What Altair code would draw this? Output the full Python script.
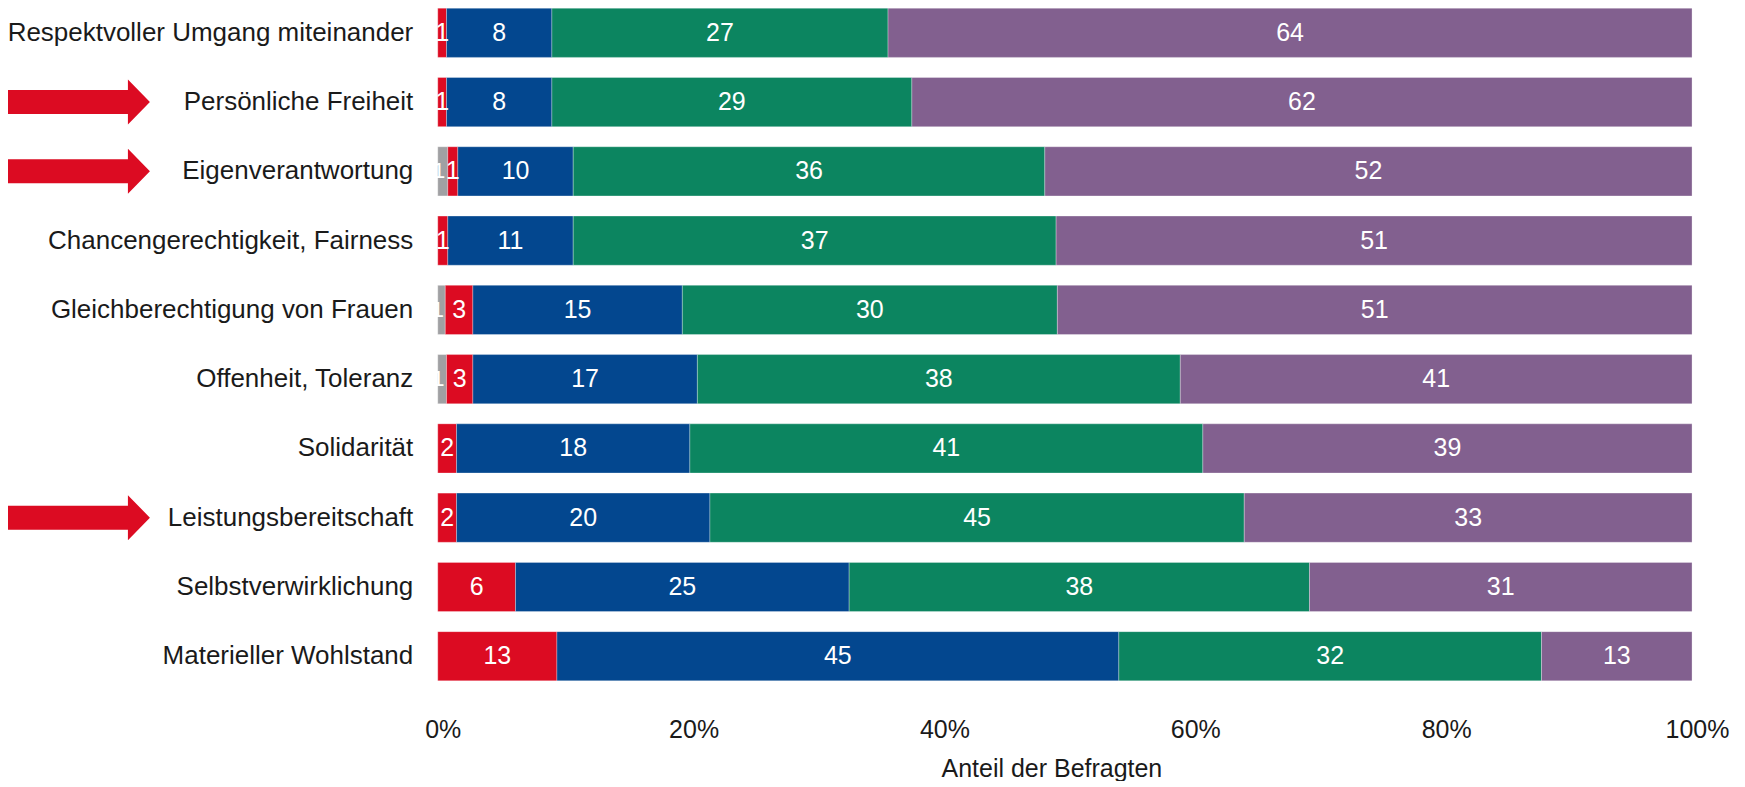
import altair as alt
import pandas as pd

categories = [
    "Respektvoller Umgang miteinander",
    "Persönliche Freiheit",
    "Eigenverantwortung",
    "Chancengerechtigkeit, Fairness",
    "Gleichberechtigung von Frauen",
    "Offenheit, Toleranz",
    "Solidarität",
    "Leistungsbereitschaft",
    "Selbstverwirklichung",
    "Materieller Wohlstand",
]

# segment widths (percent of respondents)
grey_w = [0.0, 0.0, 0.8, 0.0, 0.6, 0.7, 0.0, 0.0, 0.0, 0.0]
red_w = [0.7, 0.7, 0.8, 0.8, 2.2, 2.1, 1.5, 1.5, 6.2, 9.5]
blue_w = [8.4, 8.4, 9.2, 10.0, 16.7, 17.9, 18.6, 20.2, 26.6, 44.8]
green_w = [26.8, 28.7, 37.6, 38.5, 29.9, 38.5, 40.9, 42.6, 36.7, 33.7]
purple_w = [64.1, 62.2, 51.6, 50.7, 50.6, 40.8, 39.0, 35.7, 30.5, 12.0]

# printed labels
grey_lbl = ["", "", "1", "", "1", "1", "", "", "", ""]
red_lbl = ["1", "1", "1", "1", "3", "3", "2", "2", "6", "13"]
blue_lbl = ["8", "8", "10", "11", "15", "17", "18", "20", "25", "45"]
green_lbl = ["27", "29", "36", "37", "30", "38", "41", "45", "38", "32"]
purple_lbl = ["64", "62", "52", "51", "51", "41", "39", "33", "31", "13"]

series = ["grey", "red", "blue", "green", "purple"]
colors = ["#A0A0A3", "#DC0B22", "#03478F", "#0C8560", "#82608F"]

arrow_rows = ["Persönliche Freiheit", "Eigenverantwortung", "Leistungsbereitschaft"]

widths = [grey_w, red_w, blue_w, green_w, purple_w]
labels = [grey_lbl, red_lbl, blue_lbl, green_lbl, purple_lbl]

rows = []
for i, cat in enumerate(categories):
    start = 0.0
    for s, w, l in zip(series, widths, labels):
        val = w[i]
        if val > 0:
            rows.append({"cat": cat, "series": s, "start": start, "end": start + val,
                         "mid": start + val / 2, "label": l[i]})
        start += val
df = pd.DataFrame(rows)
arrows = pd.DataFrame({"cat": arrow_rows})

FONT = "Liberation Sans"

y_enc = alt.Y("cat:N", sort=categories,
              scale=alt.Scale(paddingInner=0.29, paddingOuter=0),
              axis=alt.Axis(title=None, domain=False, ticks=False, labelPadding=25,
                            labelFontSize=26, labelFont=FONT, labelColor="#1a1a1a",
                            labelLimit=600))

x_scale = alt.Scale(domain=[0, 100], nice=False)

bars = alt.Chart(df).mark_bar(stroke="white", strokeWidth=0.5, strokeOpacity=0.6).encode(
    x=alt.X("start:Q", scale=x_scale,
            axis=alt.Axis(values=[0, 20, 40, 60, 80, 100], labelExpr="datum.value + '%'",
                          grid=False, domain=False, ticks=False, labelPadding=37,
                          labelFlush=False, labelOffset=5, labelFontSize=25, labelFont=FONT,
                          labelColor="#1a1a1a", title="Anteil der Befragten",
                          titleFontSize=25, titleFont=FONT, titleFontWeight="normal",
                          titleColor="#1a1a1a", titlePadding=14, titleX=614)),
    x2="end:Q",
    y=y_enc,
    color=alt.Color("series:N", scale=alt.Scale(domain=series, range=colors), legend=None),
)

text = alt.Chart(df).transform_filter("datum.series != 'grey'").mark_text(
    color="white", fontSize=25, font=FONT).encode(
    x=alt.X("mid:Q", scale=x_scale),
    y=alt.Y("cat:N", sort=categories),
    text="label:N",
)

text_grey = alt.Chart(df).transform_filter("datum.series == 'grey'").mark_text(
    color="white", fontSize=23, font=FONT, dx=-4).encode(
    x=alt.X("mid:Q", scale=x_scale),
    y=alt.Y("cat:N", sort=categories),
    text="label:N",
)

arrow_path = "M-1,-0.169L0.69,-0.169L0.69,-0.317L1,0L0.69,0.317L0.69,0.169L-1,0.169Z"
arrow_marks = alt.Chart(arrows).mark_point(shape=arrow_path, filled=True, color="#DC0B22",
                                           opacity=1, size=20164, strokeWidth=0).encode(
    x=alt.value(-359),
    y=alt.Y("cat:N", sort=categories),
)

chart = alt.layer(bars, text, text_grey, arrow_marks).properties(
    width=1255, height=673,
    autosize=alt.AutoSizeParams(type="none"),
    padding={"left": 430, "top": 0, "right": 45, "bottom": 100},
).configure_view(stroke=None)

chart.save("out.html", embed_options={"renderer": "svg", "actions": False})
